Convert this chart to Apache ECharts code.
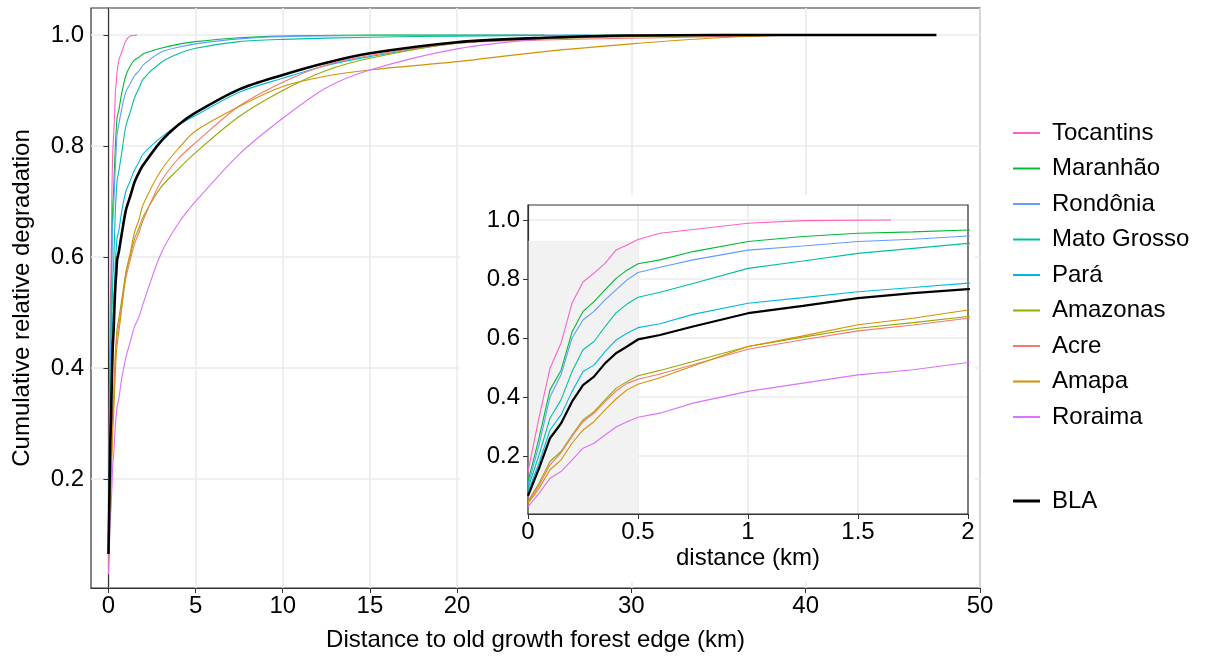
<!DOCTYPE html>
<html>
<head>
<meta charset="utf-8">
<script src="https://cdn.jsdelivr.net/npm/echarts@6/dist/echarts.min.js"></script>
<style>
  html, body { margin: 0; padding: 0; background: #fff; }
  #chart { width: 1210px; height: 659px; }
</style>
</head>
<body>
<div id="chart"></div>
<script>
// tick labels
var xTicks = [0, 5, 10, 15, 20, 30, 40, 50];
var yTicks = [0.2, 0.4, 0.6, 0.8, 1.0];

// [distance km, cumulative relative degradation]
var tocantins = [[0,0.147],[0.05,0.33],[0.1,0.497],[0.15,0.582],[0.2,0.718],[0.25,0.79],[0.3,0.82],[0.35,0.853],[0.4,0.898],[0.45,0.915],[0.5,0.934],[0.6,0.955],[0.75,0.968],[1,0.989],[1.25,0.998],[1.65,1.0]];
var maranhao = [[0,0.113],[0.05,0.26],[0.1,0.424],[0.15,0.49],[0.2,0.62],[0.25,0.69],[0.3,0.723],[0.35,0.763],[0.4,0.802],[0.45,0.83],[0.5,0.852],[0.6,0.865],[0.75,0.893],[1,0.927],[1.25,0.944],[1.5,0.955],[1.75,0.96],[2,0.966],[3,0.976],[4,0.983],[5,0.988],[7.5,0.995],[10,0.998],[15,1.0],[25,1.0]];
var rondonia = [[0,0.10],[0.05,0.237],[0.1,0.40],[0.15,0.475],[0.2,0.6],[0.25,0.661],[0.3,0.69],[0.35,0.729],[0.4,0.763],[0.45,0.797],[0.5,0.822],[0.6,0.84],[0.75,0.865],[1,0.898],[1.25,0.912],[1.5,0.927],[1.75,0.935],[2,0.946],[3,0.969],[4,0.978],[5,0.984],[7.5,0.993],[10,0.997],[15,0.999],[27.7,1.0]];
var matoGrosso = [[0,0.09],[0.05,0.203],[0.1,0.328],[0.15,0.39],[0.2,0.486],[0.25,0.56],[0.3,0.588],[0.35,0.638],[0.4,0.685],[0.45,0.715],[0.5,0.738],[0.6,0.755],[0.75,0.785],[1,0.836],[1.25,0.861],[1.5,0.887],[1.75,0.904],[2,0.921],[3,0.95],[4,0.966],[5,0.976],[7.5,0.988],[10,0.992],[15,0.996],[20,0.998],[30,1.0]];
var para = [[0,0.079],[0.05,0.175],[0.1,0.288],[0.15,0.339],[0.2,0.418],[0.25,0.486],[0.3,0.508],[0.35,0.554],[0.4,0.593],[0.45,0.616],[0.5,0.635],[0.6,0.648],[0.75,0.68],[1,0.718],[1.25,0.737],[1.5,0.757],[1.75,0.771],[2,0.786],[3,0.815],[4,0.838],[5,0.855],[7.5,0.897],[10,0.922],[12.5,0.945],[15,0.961],[20,0.985],[25,0.994],[30,0.998],[35,1.0]];
var amazonas = [[0,0.045],[0.05,0.107],[0.1,0.181],[0.15,0.215],[0.2,0.271],[0.25,0.322],[0.3,0.35],[0.35,0.39],[0.4,0.429],[0.45,0.452],[0.5,0.472],[0.6,0.49],[0.75,0.52],[1,0.571],[1.25,0.603],[1.5,0.633],[1.75,0.652],[2,0.673],[3,0.725],[4,0.758],[5,0.788],[7.5,0.853],[10,0.90],[12.5,0.936],[15,0.958],[20,0.985],[25,0.993],[30,0.997],[40,1.0]];
var acre = [[0,0.042],[0.05,0.10],[0.1,0.17],[0.15,0.21],[0.2,0.266],[0.25,0.316],[0.3,0.345],[0.35,0.384],[0.4,0.42],[0.45,0.446],[0.5,0.46],[0.6,0.478],[0.75,0.509],[1,0.562],[1.25,0.594],[1.5,0.624],[1.75,0.644],[2,0.667],[3,0.735],[4,0.777],[5,0.806],[7.5,0.872],[10,0.915],[12.5,0.946],[15,0.963],[20,0.985],[25,0.991],[30,0.994],[35,0.997],[40,1.0]];
var amapa = [[0,0.04],[0.05,0.09],[0.1,0.153],[0.15,0.186],[0.2,0.243],[0.25,0.288],[0.3,0.316],[0.35,0.356],[0.4,0.393],[0.45,0.424],[0.5,0.443],[0.6,0.465],[0.75,0.505],[1,0.571],[1.25,0.607],[1.5,0.645],[1.75,0.667],[2,0.695],[3,0.755],[4,0.795],[5,0.827],[7.5,0.871],[10,0.907],[12.5,0.926],[15,0.937],[20,0.952],[25,0.97],[30,0.984],[35,0.995],[39,1.0]];
var roraima = [[0,0.028],[0.05,0.073],[0.1,0.124],[0.15,0.147],[0.2,0.186],[0.25,0.226],[0.3,0.243],[0.35,0.271],[0.4,0.298],[0.45,0.316],[0.5,0.331],[0.6,0.345],[0.75,0.379],[1,0.419],[1.25,0.447],[1.5,0.475],[1.75,0.492],[2,0.517],[3,0.605],[4,0.66],[5,0.70],[7.5,0.785],[10,0.85],[12.5,0.905],[15,0.937],[20,0.975],[25,0.993],[30,1.0]];
var bla = [[0,0.065],[0.05,0.158],[0.1,0.26],[0.15,0.31],[0.2,0.384],[0.25,0.44],[0.3,0.469],[0.35,0.514],[0.4,0.548],[0.45,0.571],[0.5,0.595],[0.6,0.61],[0.75,0.639],[1,0.684],[1.25,0.709],[1.5,0.735],[1.75,0.752],[2,0.766],[3,0.808],[4,0.838],[5,0.86],[7.5,0.902],[10,0.928],[12.5,0.95],[15,0.967],[20,0.987],[25,0.995],[30,0.999],[40,1.0],[47.5,1.0]];

var regions = ['Tocantins', 'Maranhão', 'Rondônia', 'Mato Grosso', 'Pará', 'Amazonas', 'Acre', 'Amapa', 'Roraima'];
var regionData = [tocantins, maranhao, rondonia, matoGrosso, para, amazonas, acre, amapa, roraima];
var regionColors = ['#FF61C3', '#00BA38', '#619CFF', '#00C19F', '#00B9E3', '#93AA00', '#F8766D', '#D39200', '#DB72FB'];

var font = '"Liberation Sans", Arial, sans-serif';
var txt = { fontFamily: font, fontSize: 24, color: '#000' };

var chart = echarts.init(document.getElementById('chart'));

var series = [];
// main panel
regions.forEach(function (name, i) {
    series.push({
        name: name, type: 'line', xAxisIndex: 0, yAxisIndex: 0,
        data: regionData[i], showSymbol: false, smooth: 0.3,
        color: regionColors[i], lineStyle: { color: regionColors[i], width: 1.1 }
    });
});
series.push({
    name: 'BLA', type: 'line', xAxisIndex: 0, yAxisIndex: 0,
    data: bla, showSymbol: false, smooth: 0.3,
    color: '#000', lineStyle: { color: '#000', width: 2.6 }
});
// inset
regions.forEach(function (name, i) {
    series.push({
        name: name, type: 'line', xAxisIndex: 1, yAxisIndex: 1, z: 6,
        data: regionData[i], showSymbol: false,
        color: regionColors[i], lineStyle: { color: regionColors[i], width: 1.1 }
    });
});
series.push({
    name: 'BLA', type: 'line', xAxisIndex: 1, yAxisIndex: 1, z: 6,
    data: bla, showSymbol: false,
    color: '#000', lineStyle: { color: '#000', width: 2.2 },
    markArea: {
        silent: true, z: 5,
        itemStyle: { color: '#f2f2f2' },
        data: [[{ xAxis: 0, yAxis: 0.003 }, { xAxis: 0.5, yAxis: 0.93 }]]
    }
});

var option = {
    animation: false,
    backgroundColor: '#fff',
    textStyle: { fontFamily: font },
    grid: [
        { left: 91, top: 8, right: 230, bottom: 71, show: true, borderColor: '#333', borderWidth: 1.2, backgroundColor: '#fff' },
        { left: 528, top: 205, right: 242, bottom: 145, show: true, borderColor: '#333', borderWidth: 1.2, z: 6 }
    ],
    graphic: [
        { type: 'rect', z: 3, silent: true, shape: { x: 460, y: 195, width: 515, height: 387 }, style: { fill: '#fff' } }
    ],
    xAxis: [
        {
            gridIndex: 0, type: 'value', min: -1, max: 50,
            name: 'Distance to old growth forest edge (km)', nameLocation: 'middle', nameGap: 40,
            nameTextStyle: txt,
            axisLine: { show: true, lineStyle: { color: '#333', width: 1.2 } },
            axisTick: { show: true, customValues: xTicks, length: 5, lineStyle: { color: '#333' } },
            axisLabel: Object.assign({ customValues: xTicks, margin: 6 }, txt),
            splitLine: { show: true, lineStyle: { color: '#ebebeb', width: 1.6 } }
        },
        {
            gridIndex: 1, type: 'value', min: 0, max: 2, interval: 0.5, z: 4,
            name: 'distance (km)', nameLocation: 'middle', nameGap: 32,
            nameTextStyle: txt,
            axisLine: { show: true, lineStyle: { color: '#333', width: 1.2 } },
            axisTick: { show: true, length: 5, lineStyle: { color: '#333' } },
            axisLabel: Object.assign({ margin: 6 }, txt),
            splitLine: { show: true, lineStyle: { color: '#ebebeb', width: 1.6 } }
        }
    ],
    yAxis: [
        {
            gridIndex: 0, type: 'value', min: 0.0036, max: 1.0486,
            name: 'Cumulative relative degradation', nameLocation: 'middle', nameGap: 57, nameRotate: 90,
            nameTextStyle: txt,
            axisLine: { show: true, lineStyle: { color: '#333', width: 1.2 } },
            axisTick: { show: true, customValues: yTicks, length: 5, lineStyle: { color: '#333' } },
            axisLabel: Object.assign({ customValues: yTicks, margin: 7, formatter: function (v) { return v.toFixed(1); } }, txt),
            splitLine: { show: true, lineStyle: { color: '#ebebeb', width: 1.6 } }
        },
        {
            gridIndex: 1, type: 'value', min: 0.003, max: 1.051, z: 4,
            axisLine: { show: true, lineStyle: { color: '#333', width: 1.2 } },
            axisTick: { show: true, customValues: yTicks, length: 5, lineStyle: { color: '#333' } },
            axisLabel: Object.assign({ customValues: yTicks, margin: 8, formatter: function (v) { return v.toFixed(1); } }, txt),
            splitLine: { show: true, lineStyle: { color: '#ebebeb', width: 1.6 } }
        }
    ],
    legend: [
        {
            data: regions, orient: 'vertical', left: 1008, top: 116,
            icon: 'rect', itemWidth: 27, itemHeight: 2, itemGap: 11.5,
            textStyle: Object.assign({ padding: [0, 0, 0, 7] }, txt)
        },
        {
            data: ['BLA'], orient: 'vertical', left: 1008, top: 484,
            icon: 'rect', itemWidth: 27, itemHeight: 3,
            textStyle: Object.assign({ padding: [0, 0, 0, 7] }, txt)
        }
    ],
    series: series
};

chart.setOption(option);
</script>
</body>
</html>
